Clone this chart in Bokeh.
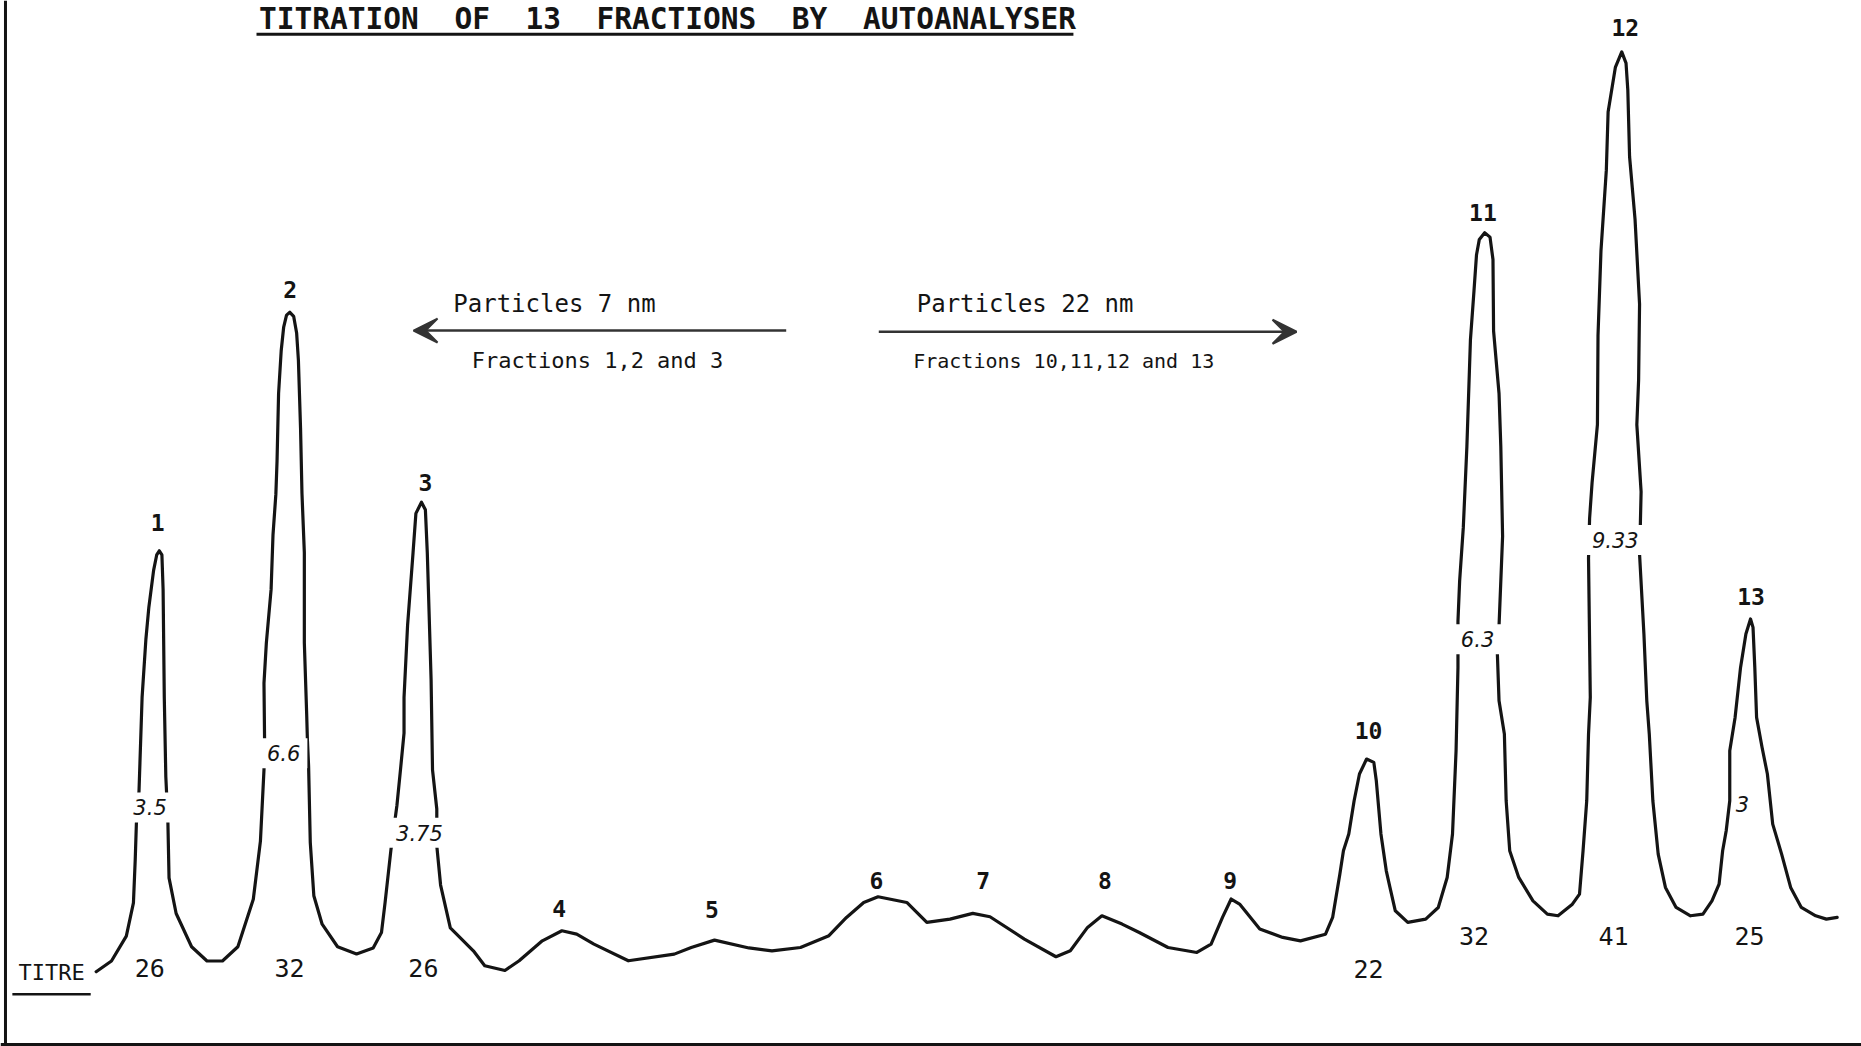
from bokeh.plotting import figure
from bokeh.models import Range1d, Label, Span, Arrow, VeeHead, ColumnDataSource
from bokeh.embed import file_html
from bokeh.resources import INLINE
from bokeh.core.properties import value

# ---------------- data (chart units: x = elution position, y = recorder response) -------------
trace_x = [80.6, 93.5, 106, 112, 113.5, 114.5, 116.7, 119.3, 122.5, 125, 129, 131.6, 133.8, 136, 137,
           138, 139.3, 141, 142, 148, 161, 174, 187, 200, 213, 219, 222, 222.5, 222, 224, 228, 229.6,
           232, 233, 234.3, 236.5, 238.6, 241, 243.8, 247, 249.5, 251, 252.8, 254, 256, 256, 258,
           258.6, 259.6, 261, 264, 271, 284, 300, 314, 321, 324, 329, 332, 334, 337, 340, 340, 343,
           347.6, 350, 354.7, 358, 359.6, 362.8, 364, 367.6, 367.6, 370.8, 379, 398.4, 408, 425, 437,
           456.5, 473, 485.5, 500, 529, 567.7, 582, 601.6, 630.6, 650, 674, 698, 712.8, 727.3, 739.4,
           763.6, 780.5, 800, 819.2, 833.7, 862.7, 889.3, 901.4, 915.9, 928, 945, 959.5, 983.7, 1008,
           1020, 1029.6, 1036.9, 1044, 1061, 1080.4, 1095.3, 1116.4, 1122.4, 1128.5, 1131.5, 1136,
           1140.5, 1145, 1151, 1157.1, 1159.2, 1163.1, 1167.6, 1170.7, 1175.2, 1185.7, 1200.8, 1211.4,
           1218.9, 1223.4, 1226.4, 1228, 1228, 1229.4, 1232.5, 1235.5, 1237, 1238.5, 1241.5, 1243.6,
           1246, 1250.5, 1255, 1257.5, 1258, 1262.6, 1264.1, 1265.6, 1262.6, 1261.1, 1262.6, 1267.1,
           1268.6, 1271.6, 1279.2, 1291.2, 1303.3, 1312.3, 1324.4, 1330.4, 1333.4, 1336.5, 1338,
           1339.5, 1338, 1338.9, 1341, 1345.5, 1346, 1348.5, 1353, 1354.5, 1360.6, 1366, 1369.6,
           1371.1, 1372.6, 1377.2, 1381, 1380.2, 1378.7, 1382.3, 1381.7, 1381, 1384.7, 1387.1, 1389.2,
           1392.2, 1396.7, 1402.8, 1411.8, 1423.9, 1434.4, 1442, 1448, 1451, 1454, 1457, 1457, 1461.5,
           1466.1, 1470.6, 1474.5, 1476.6, 1478.1, 1479.6, 1484.2, 1488.7, 1493.2, 1500.7, 1508.3,
           1517.3, 1529.4, 1538.4, 1547.5]
trace_y = [63, 72, 93, 121, 157, 188, 215, 294, 343, 370, 401, 414, 417.5, 414, 385,
           294, 227, 191, 142, 112, 84, 72, 72, 84, 124, 173, 233, 258, 306, 340, 385, 431,
           465, 493, 550, 586, 606, 616, 618.4, 615, 601, 578, 521, 466, 416, 340, 279,
           258, 236, 172, 127, 103, 84, 78, 83, 96, 121, 166, 188, 203, 233, 264, 294, 355,
           416, 449, 458.4, 452, 416, 309, 233, 200, 169, 136, 100, 80.6, 68, 64, 72.2,
           89, 97.5, 94.7, 86.2, 72.2, 77.8, 83.4, 89.6, 83, 80.6, 83.4, 93.3, 108.7, 121.3, 126.1,
           121.3, 104.5, 107.3, 112.1, 109.3, 90.5, 75.6, 80.6, 100.3, 110.1, 103.1, 96, 83.4, 79.2,
           86.2, 108.7, 124.2, 120, 98.9, 91.9, 89, 94.6, 108.7, 145.2, 164.9, 179,
           207, 229.5, 242.1, 239.3, 223.8, 179, 148, 134, 114.3, 104.5, 107.3, 117.1,
           142.4, 179, 249.1, 319.3, 358.2, 392, 437.2, 505, 550, 595.1, 636.5, 666.6,
           679.8, 685.4, 681.7, 662.8, 602.7, 550, 505, 429.7, 354.4, 333.4, 291.2, 263.2,
           207, 164.9, 142.4, 122.7, 111.5, 110.1, 119.9, 128.4, 164.9, 207, 263.2,
           294.2, 411, 444.7, 475, 523.7, 598.9, 670.4, 738.1, 787, 824.6, 837.7, 828.3,
           805.8, 749.4, 696.7, 625.2, 561.3, 523.7, 467.3, 441, 414.6, 346.9, 291.2, 263.2,
           207, 162, 134, 117.1, 110.1, 111.5, 122.7, 136.8, 164.9, 181.7, 207, 249.1, 277.2,
           319.3, 347.4, 360.1, 353, 319.3, 277.2, 252, 229.5, 187.3, 162, 134,
           117.1, 110.1, 107.3, 108.7]

fraction_names = ["1", "2", "3", "4", "5", "6", "7", "8", "9", "10", "11", "12", "13"]
fraction_x = [132.5, 244, 358, 470.8, 599.5, 738, 828, 930.5, 1036, 1152.6, 1249, 1369, 1475]
fraction_y = [441, 638, 475, 116, 115.7, 140.2, 140.2, 140.2, 140.2, 266, 702.3, 858.4, 378.9]

titre_values = ["26", "32", "26", "22", "32", "41", "25"]
titre_x = [125.8, 243.5, 356.3, 1152.6, 1241.5, 1359, 1473.6]
titre_y = [66, 66, 66, 65.4, 93.3, 93.3, 93.3]

conc_values = ["3.5", "6.6", "3.75", "6.3", "9.33", "3"]
conc_x = [126, 238.6, 353, 1244.5, 1360.6, 1467.6]
conc_y = [201.4, 247, 180, 343, 426.5, 204.2]
conc_breaks_line = [True, True, True, True, True, False]

title_words = ["TITRATION", "OF", "13", "FRACTIONS", "BY", "AUTOANALYSER"]
small_particles = ["Particles 7 nm", "Fractions 1,2 and 3"]
large_particles = ["Particles 22 nm", "Fractions 10,11,12 and 13"]
arrow_small_x = [662, 348]
arrow_large_x = [740, 1092]
arrow_y = 603

INK = "#141414"
MONO = "DejaVu Sans Mono"

p = figure(width=1861, height=1046, x_range=Range1d(0, 1568), y_range=Range1d(0, 881),
           toolbar_location=None, output_backend="svg", min_border=0,
           x_axis_location=None, y_axis_location=None, outline_line_color=None,
           background_fill_color="white", border_fill_color="white")
p.xgrid.visible = False
p.ygrid.visible = False

# frame lines of the original sheet
p.add_layout(Span(location=4.2, dimension="height", line_color=INK, line_width=3))
p.add_layout(Span(location=1.6, dimension="width", line_color=INK, line_width=3))

# recorder trace
p.line(trace_x, trace_y, line_color=INK, line_width=3.2, line_join="round", line_cap="round")

# fraction numbers above peaks
src_f = ColumnDataSource(dict(x=fraction_x, y=fraction_y, t=fraction_names))
p.text(x="x", y="y", text="t", source=src_f, text_font=value(MONO), text_font_size="23px",
       text_color=INK, text_align="center", text_baseline="middle", text_font_style="bold")

# titre values under peaks
src_t = ColumnDataSource(dict(x=titre_x, y=titre_y, t=titre_values))
p.text(x="x", y="y", text="t", source=src_t, text_font=value(MONO), text_font_size="25px",
       text_color=INK, text_align="center", text_baseline="middle")

# concentrations written across the peaks (line interrupted)
for v, cx, cy, brk in zip(conc_values, conc_x, conc_y, conc_breaks_line):
    p.add_layout(Label(x=cx, y=cy, text=v, text_font="DejaVu Sans", text_font_style="italic",
                       text_font_size="21px", text_color=INK, text_align="center",
                       text_baseline="middle",
                       background_fill_color="white" if brk else None,
                       background_fill_alpha=1.0, padding=7))

# TITRE label
p.add_layout(Label(x=43, y=62, text="TITRE", text_font=MONO, text_font_size="22px",
                   text_color=INK, text_align="center", text_baseline="middle"))
p.segment(x0=[10], y0=[44], x1=[76], y1=[44], line_color=INK, line_width=2.5)

# title (wide lettering gaps kept with non-breaking spaces)
title_text = "\u00a0\u00a0".join(title_words)
p.add_layout(Label(x=562, y=865.4, text=title_text, text_font=MONO, text_font_style="bold",
                   text_font_size="29.5px", text_color=INK, text_align="center",
                   text_baseline="middle"))
p.segment(x0=[215.7], y0=[852.5], x1=[904], y1=[852.5], line_color=INK, line_width=3)

# particle-size arrows
p.add_layout(Arrow(x_start=arrow_small_x[0], y_start=arrow_y, x_end=arrow_small_x[1], y_end=arrow_y,
                   line_color="#333333", line_width=2.5,
                   end=VeeHead(size=24, fill_color="#333333", line_color="#333333", line_width=2)))
p.add_layout(Arrow(x_start=arrow_large_x[0], y_start=arrow_y - 1, x_end=arrow_large_x[1], y_end=arrow_y - 1,
                   line_color="#333333", line_width=2.5,
                   end=VeeHead(size=24, fill_color="#333333", line_color="#333333", line_width=2)))

p.add_layout(Label(x=381.5, y=625, text=small_particles[0], text_font=MONO, text_font_size="24px",
                   text_color=INK, text_align="left", text_baseline="middle"))
p.add_layout(Label(x=397, y=578, text=small_particles[1], text_font=MONO, text_font_size="22px",
                   text_color=INK, text_align="left", text_baseline="middle"))
p.add_layout(Label(x=772, y=625, text=large_particles[0], text_font=MONO, text_font_size="24px",
                   text_color=INK, text_align="left", text_baseline="middle"))
p.add_layout(Label(x=769, y=577, text=large_particles[1], text_font=MONO, text_font_size="20px",
                   text_color=INK, text_align="left", text_baseline="middle"))

open("out.html", "w").write(file_html(p, INLINE))
